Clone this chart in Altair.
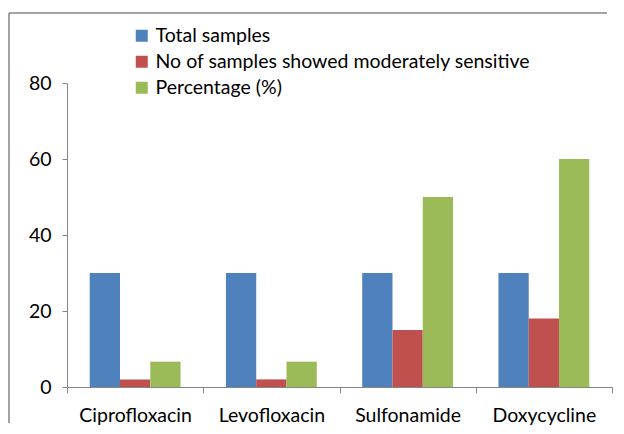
import altair as alt
import pandas as pd

categories = ["Ciprofloxacin", "Levofloxacin", "Sulfonamide", "Doxycycline"]
series = ["Total samples", "No of samples showed moderately sensitive", "Percentage (%)"]
total_samples = [30, 30, 30, 30]
moderately_sensitive = [2, 2, 15, 18]
percentage = [6.67, 6.67, 50, 60]
colors = ["#4F81BD", "#C0504D", "#9BBB59"]
y_ticks = [0, 20, 40, 60, 80]

rows = []
for i, c in enumerate(categories):
    for s, vals in zip(series, [total_samples, moderately_sensitive, percentage]):
        rows.append({"drug": c, "series": s, "value": vals[i]})
df = pd.DataFrame(rows)

FONT = "Lato"
FS = 19.5

bars = alt.Chart(df).mark_bar().encode(
    x=alt.X("drug:N", sort=categories, title=None,
            scale=alt.Scale(paddingInner=0, paddingOuter=0),
            axis=alt.Axis(labelAngle=0, tickBand="extent", tickSize=6,
                          labelPadding=13, labelFontSize=FS, labelFont=FONT,
                          labelColor="#000000", domainColor="#868686",
                          tickColor="#868686", grid=False)),
    xOffset=alt.XOffset("series:N", sort=series,
                        scale=alt.Scale(paddingInner=0, paddingOuter=0.75)),
    y=alt.Y("value:Q", title=None,
            scale=alt.Scale(domain=[0, 80], nice=False),
            axis=alt.Axis(values=y_ticks, tickSize=5, labelPadding=11,
                          labelFontSize=FS, labelFont=FONT, labelColor="#000000",
                          domainColor="#868686", tickColor="#868686", grid=False)),
    color=alt.Color("series:N", sort=series,
                    scale=alt.Scale(domain=series, range=colors),
                    legend=alt.Legend(title=None, orient="none", legendX=65, legendY=-57,
                                      symbolType="square", symbolSize=144,
                                      symbolStrokeWidth=0, labelFontSize=FS,
                                      labelFont=FONT, labelColor="#000000",
                                      labelLimit=0, rowPadding=5, labelOffset=4)),
)

one = pd.DataFrame({"a": [0]})
top_edge = alt.Chart(one).mark_rule(stroke="#868686", strokeWidth=1.5).encode(
    x=alt.value(-58), x2=alt.value(540), y=alt.value(-70), y2=alt.value(-70))
left_edge = alt.Chart(one).mark_rule(stroke="#868686", strokeWidth=1.5).encode(
    x=alt.value(-58), x2=alt.value(-58), y=alt.value(-70), y2=alt.value(340))

chart = alt.layer(top_edge, left_edge, bars).properties(
    width=545, height=304,
    autosize=alt.AutoSizeParams(type="none"),
    padding={"left": 59, "top": 75, "right": 4, "bottom": 39},
).configure_view(stroke=None)

chart.save("out.html", embed_options={"renderer": "svg", "actions": False})
